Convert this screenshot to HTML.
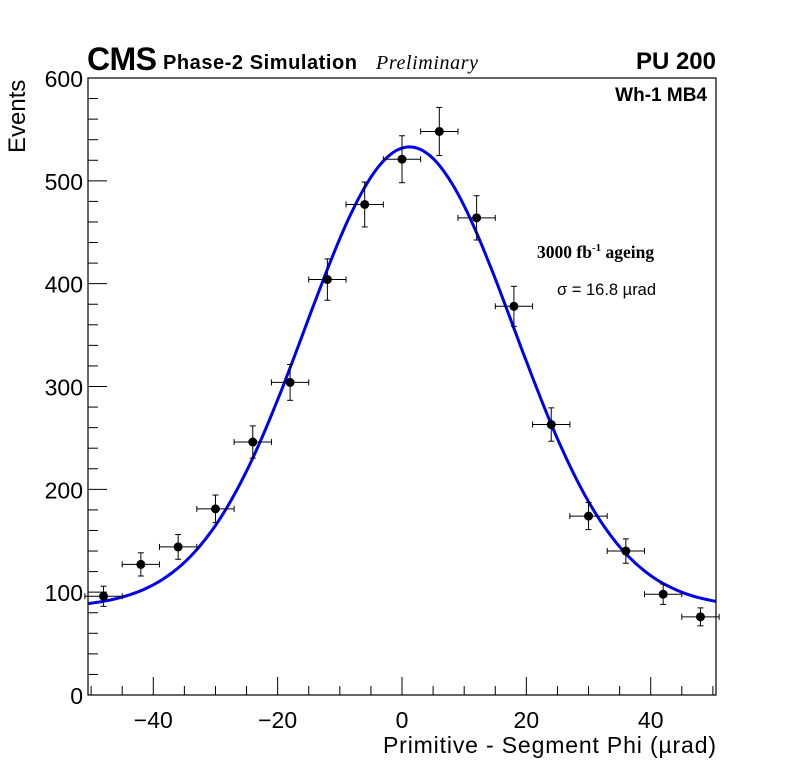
<!DOCTYPE html>
<html><head><meta charset="utf-8"><style>
html,body{margin:0;padding:0;background:#fff;}
svg{display:block;font-family:"Liberation Sans",sans-serif;}
</style></head><body>
<svg id="chart" width="796" height="772" viewBox="0 0 796 772" xmlns="http://www.w3.org/2000/svg">
<rect width="796" height="772" fill="#fff"/>
<g id="ticks"></g>
<g id="curve"></g>
<g id="points"></g>
<rect x="88" y="78" width="628" height="617" fill="none" stroke="#000" stroke-width="1.2"/>
<text x="87" y="70" font-size="32" font-weight="bold" textLength="70">CMS</text>
<text x="163" y="69" font-size="20" font-weight="bold" textLength="194">Phase-2 Simulation</text>
<text x="376" y="69" font-size="20" font-style="italic" font-family="Liberation Serif, serif" textLength="102">Preliminary</text>
<text x="716" y="69" font-size="24" font-weight="bold" text-anchor="end">PU 200</text>
<text x="707" y="101" font-size="19" font-weight="bold" text-anchor="end">Wh-1 MB4</text>
<text x="537" y="258" font-size="17.5" font-weight="bold" font-family="Liberation Serif, serif">3000 fb<tspan dy="-7" font-size="11">-1</tspan><tspan dy="7"> ageing</tspan></text>
<text x="557" y="295" font-size="16.5">σ = 16.8 µrad</text>
<text transform="translate(25,153) rotate(-90)" font-size="24">Events</text>
<text x="383" y="753" font-size="23" textLength="333">Primitive - Segment Phi (µrad)</text>
</svg>
<script>
const xCenters=[-48,-42,-36,-30,-24,-18,-12,-6,0,6,12,18,24,30,36,42,48];
const yValues=[96,127,144,181,246,304,404,477,521,548,464,378,263,174,140,98,76];
const xTicks=[-40,-20,0,20,40];
const yTicks=[0,100,200,300,400,500,600];
const fitParams=[448,1.2,16.8,85]; // amplitude, mean, sigma, constant
const binHalfWidth=3;
const NS="http://www.w3.org/2000/svg";
const L=88,R=716,T=78,B=695,xMin=-50.5,xMax=50.5,yMin=0,yMax=600;
const sx=v=>L+(v-xMin)/(xMax-xMin)*(R-L);
const sy=v=>B-(v-yMin)/(yMax-yMin)*(B-T);
function mk(tag,attrs,parent){const e=document.createElementNS(NS,tag);for(const k in attrs)e.setAttribute(k,attrs[k]);parent.appendChild(e);return e;}
const tg=document.getElementById('ticks');
for(let v=-50;v<=50;v+=5){
  const major=v%20===0;
  const t=mk('line',{x1:sx(v),x2:sx(v),y1:B,y2:B-(major?18:9),stroke:'#000','stroke-width':1},tg);
  
  
}
xTicks.forEach(v=>{
  const t=mk('text',{x:sx(v),y:B+33,'font-size':23,'text-anchor':'middle'},tg);
  t.textContent=(v<0?'\u2212'+(-v):String(v));
  
  
});
for(let v=0;v<=600;v+=20){
  const major=v%100===0;
  const t=mk('line',{x1:L,x2:L+(major?19:10),y1:sy(v),y2:sy(v),stroke:'#000','stroke-width':1},tg);
  
  
}
yTicks.forEach(v=>{
  const t=mk('text',{x:L-5,y:sy(v)+9,'font-size':23,'text-anchor':'end'},tg);
  t.textContent=String(v);
  
  
});
const [A,mu,sg,C]=fitParams;
let d='';
for(let x=xMin;x<=xMax+1e-9;x+=0.5){const y=C+A*Math.exp(-0.5*((x-mu)/sg)**2);d+=(d?'L':'M')+sx(x).toFixed(1)+','+sy(y).toFixed(1);}
const cp=mk('path',{d:d,fill:'none',stroke:'#0000ee','stroke-width':3},document.getElementById('curve'));


const pg=document.getElementById('points');
xCenters.forEach((x,i)=>{
  const y=yValues[i],e=Math.sqrt(y);
  const g=mk('g',{},pg);
  
  
  mk('line',{x1:sx(x-binHalfWidth),x2:sx(x+binHalfWidth),y1:sy(y),y2:sy(y),stroke:'#000','stroke-width':1},g);
  mk('line',{x1:sx(x),x2:sx(x),y1:sy(y-e),y2:sy(y+e),stroke:'#000','stroke-width':1},g);
  [sx(x-binHalfWidth),sx(x+binHalfWidth)].forEach(px=>mk('line',{x1:px,x2:px,y1:sy(y)-3,y2:sy(y)+3,stroke:'#000'},g));
  [sy(y-e),sy(y+e)].forEach(py=>mk('line',{x1:sx(x)-3,x2:sx(x)+3,y1:py,y2:py,stroke:'#000'},g));
  mk('circle',{cx:sx(x),cy:sy(y),r:4.5,fill:'#000'},g);
});
</script>
</body></html>
